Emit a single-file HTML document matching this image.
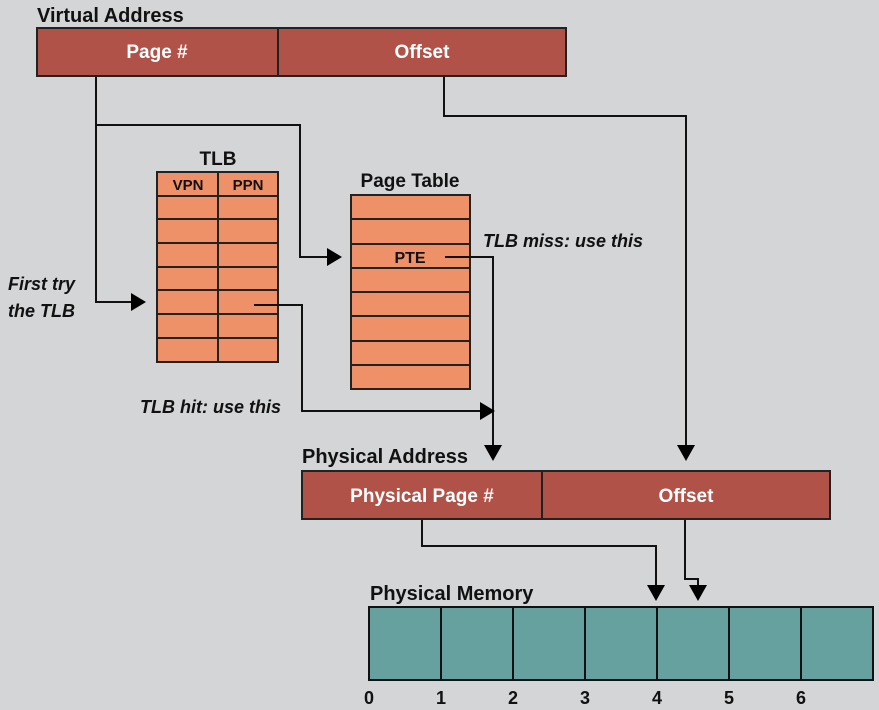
<!DOCTYPE html>
<html><head><meta charset="utf-8"><style>
html,body{margin:0;padding:0;background:#d4d5d7;}
svg{display:block;font-family:"Liberation Sans",sans-serif;}
</style></head><body>
<svg width="879" height="710" viewBox="0 0 879 710">
<rect width="879" height="710" fill="#d4d5d7"/>
<g fill="none" stroke="#111" stroke-width="2">
<polyline points="96,76 96,302 131,302"/>
<path d="M131,293 L146,302 L131,311 z" fill="#000" stroke="none"/>
<polyline points="96,125 300,125 300,257 327,257"/>
<path d="M327,248 L342,257 L327,266 z" fill="#000" stroke="none"/>
<polyline points="444,76 444,116 686,116 686,445"/>
<path d="M677,445 L686,461 L695,445 z" fill="#000" stroke="none"/>
<polyline points="445,257 493,257 493,445"/>
<path d="M484,445 L493,461 L502,445 z" fill="#000" stroke="none"/>
<polyline points="254,305 302,305 302,411 480,411"/>
<path d="M480,402 L495,411 L480,420 z" fill="#000" stroke="none"/>
<polyline points="422,519 422,546 656,546 656,585"/>
<path d="M647,585 L656,601 L665,585 z" fill="#000" stroke="none"/>
<polyline points="685,519 685,579 698,579 698,585"/>
<path d="M689,585 L698,601 L707,585 z" fill="#000" stroke="none"/>
</g>
<rect x="37" y="28" width="529" height="48" fill="#b05248" stroke="#222" stroke-width="2"/>
<line x1="278" y1="28" x2="278" y2="76" stroke="#222" stroke-width="2"/>
<text x="37" y="22" font-size="20" font-weight="bold" fill="#111">Virtual Address</text>
<g font-size="19" font-weight="bold" fill="#fff" text-anchor="middle">
<text x="157" y="58">Page #</text>
<text x="422" y="58">Offset</text>
</g>
<text x="218" y="165" font-size="19" font-weight="bold" text-anchor="middle" fill="#111">TLB</text>
<rect x="157" y="172" width="121" height="190" fill="#ee9068" stroke="#222" stroke-width="2"/>
<g stroke="#222" stroke-width="2">
<line x1="218" y1="172" x2="218" y2="362"/>
<line x1="157" y1="196" x2="278" y2="196"/>
<line x1="157" y1="219" x2="278" y2="219"/>
<line x1="157" y1="243" x2="278" y2="243"/>
<line x1="157" y1="267" x2="278" y2="267"/>
<line x1="157" y1="290" x2="278" y2="290"/>
<line x1="157" y1="314" x2="278" y2="314"/>
<line x1="157" y1="338" x2="278" y2="338"/>
</g>
<g font-size="15" font-weight="bold" fill="#111" text-anchor="middle">
<text x="188" y="190">VPN</text><text x="248" y="190">PPN</text>
</g>
<text x="410" y="187" font-size="19" font-weight="bold" text-anchor="middle" fill="#111">Page Table</text>
<rect x="351" y="195" width="119" height="194" fill="#ee9068" stroke="#222" stroke-width="2"/>
<g stroke="#222" stroke-width="2">
<line x1="351" y1="219" x2="470" y2="219"/>
<line x1="351" y1="244" x2="470" y2="244"/>
<line x1="351" y1="268" x2="470" y2="268"/>
<line x1="351" y1="292" x2="470" y2="292"/>
<line x1="351" y1="316" x2="470" y2="316"/>
<line x1="351" y1="341" x2="470" y2="341"/>
<line x1="351" y1="365" x2="470" y2="365"/>
</g>
<line x1="445" y1="257" x2="493" y2="257" stroke="#111" stroke-width="2"/>
<text x="410" y="263" font-size="16" font-weight="bold" text-anchor="middle" fill="#111">PTE</text>
<line x1="254" y1="305" x2="302" y2="305" stroke="#111" stroke-width="2"/>
<g font-size="18" font-style="italic" fill="#111" font-weight="bold">
<text x="483" y="247">TLB miss: use this</text>
<text x="140" y="413">TLB hit: use this</text>
<text x="8" y="290">First try</text>
<text x="8" y="317">the TLB</text>
</g>
<text x="302" y="463" font-size="20" font-weight="bold" fill="#111">Physical Address</text>
<rect x="302" y="471" width="528" height="48" fill="#b05248" stroke="#222" stroke-width="2"/>
<line x1="542" y1="471" x2="542" y2="519" stroke="#222" stroke-width="2"/>
<g font-size="19" font-weight="bold" fill="#fff" text-anchor="middle">
<text x="422" y="502">Physical Page #</text>
<text x="686" y="502">Offset</text>
</g>
<text x="370" y="600" font-size="20" font-weight="bold" fill="#111">Physical Memory</text>
<rect x="369" y="607" width="504" height="73" fill="#66a19f" stroke="#111" stroke-width="2"/>
<g stroke="#111" stroke-width="2">
<line x1="441" y1="607" x2="441" y2="680"/>
<line x1="513" y1="607" x2="513" y2="680"/>
<line x1="585" y1="607" x2="585" y2="680"/>
<line x1="657" y1="607" x2="657" y2="680"/>
<line x1="729" y1="607" x2="729" y2="680"/>
<line x1="801" y1="607" x2="801" y2="680"/>
</g>
<g font-size="18" font-weight="bold" fill="#111" text-anchor="middle">
<text x="369" y="704">0</text><text x="441" y="704">1</text><text x="513" y="704">2</text><text x="585" y="704">3</text><text x="657" y="704">4</text><text x="729" y="704">5</text><text x="801" y="704">6</text>
</g>
</svg>
</body></html>
